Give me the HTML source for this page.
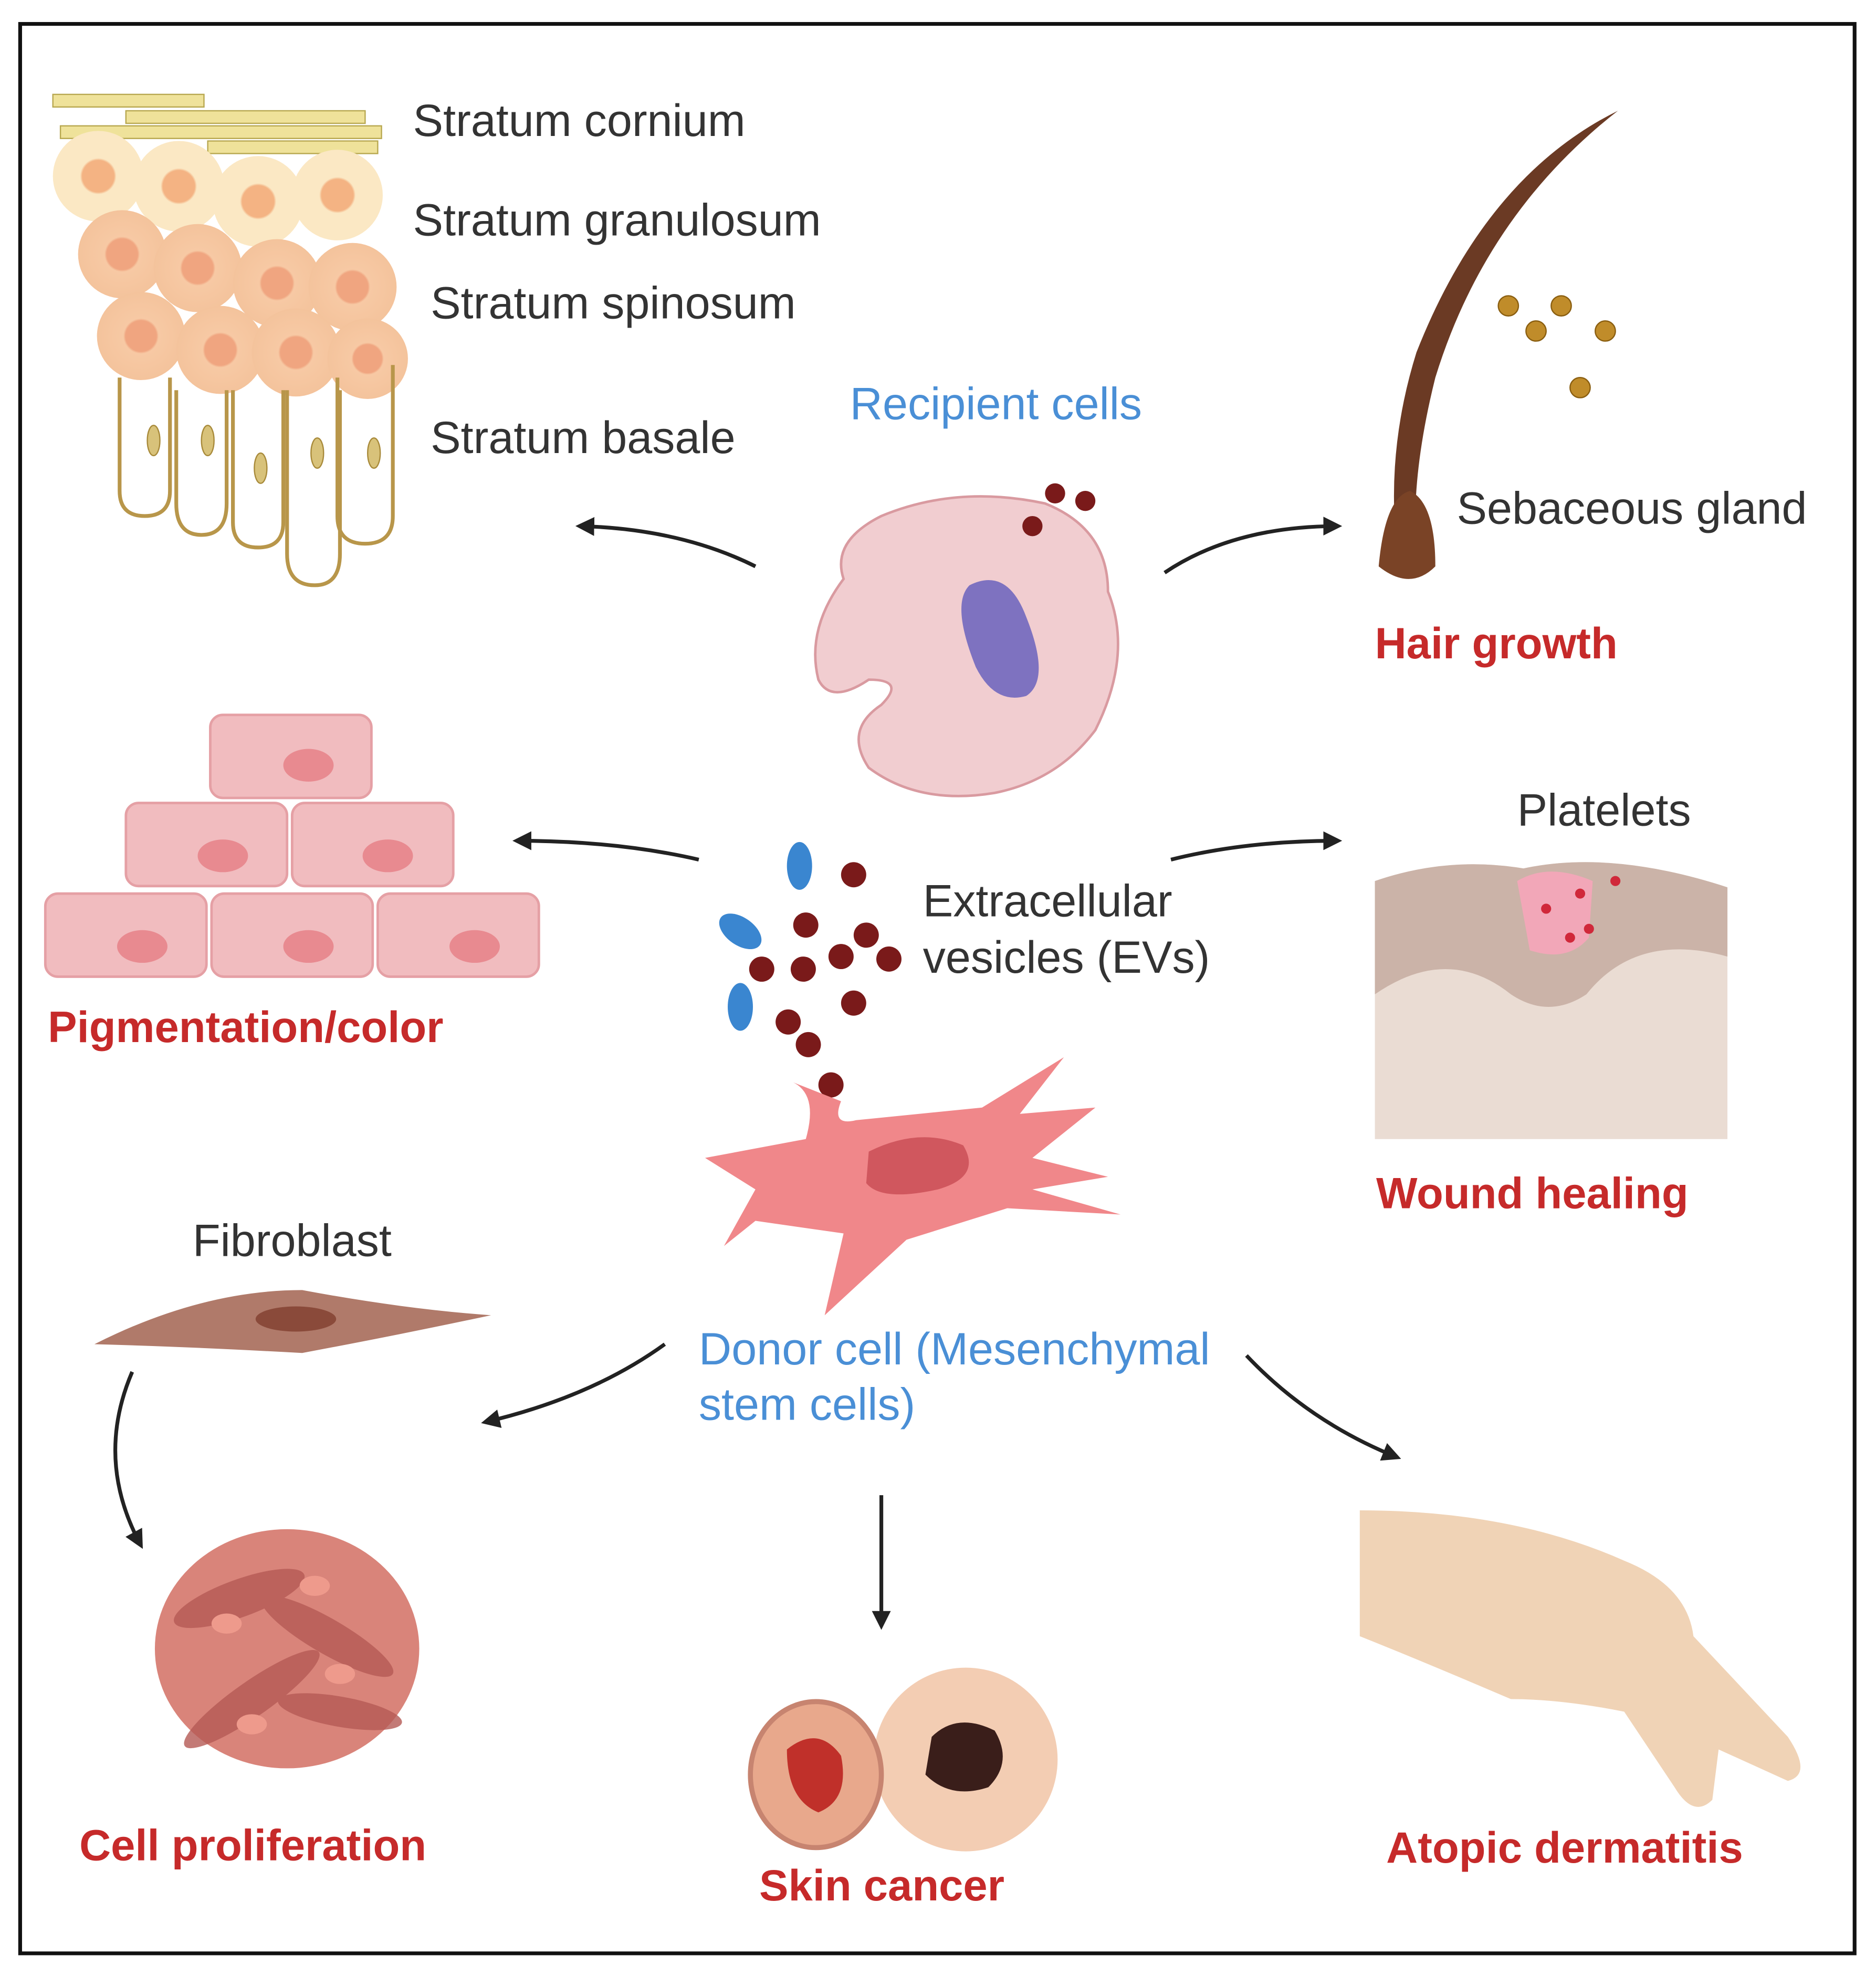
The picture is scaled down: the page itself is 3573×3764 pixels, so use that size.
<!DOCTYPE html>
<html><head><meta charset="utf-8"><style>
html,body{margin:0;padding:0;background:#fff}
svg{display:block}
text{font-family:"Liberation Sans",sans-serif}
.k{fill:#333;font-size:36px}
.b{fill:#4a8fd6;font-size:36px}
.r{fill:#c62a2a;font-size:34.7px;font-weight:bold}
</style></head><body>
<svg width="3573" height="3764" viewBox="0 0 1490 1570" preserveAspectRatio="none" xmlns="http://www.w3.org/2000/svg">
<defs>
<marker id="a" viewBox="0 0 10 10" refX="8" refY="5" markerWidth="5" markerHeight="5" orient="auto"><path d="M0,0L10,5L0,10z" fill="#222"/></marker>
<radialGradient id="cell"><stop offset="0.35" stop-color="#f0a580"/><stop offset="0.4" stop-color="#f7c9a4"/><stop offset="1" stop-color="#f4c39c"/></radialGradient>
<radialGradient id="gc"><stop offset="0.35" stop-color="#f4b383"/><stop offset="0.4" stop-color="#fbe8c4"/></radialGradient>
</defs>
<rect x="16" y="19" width="1457" height="1533" fill="#fff" stroke="#111" stroke-width="3"/>
<g>
<rect x="42" y="75" width="120" height="10" fill="#efe29a" stroke="#b8a850"/>
<rect x="100" y="88" width="190" height="10" fill="#efe29a" stroke="#b8a850"/>
<rect x="48" y="100" width="255" height="10" fill="#efe29a" stroke="#b8a850"/>
<rect x="165" y="112" width="135" height="10" fill="#efe29a" stroke="#b8a850"/>
<circle cx="78" cy="140" r="36" fill="url(#gc)"/><circle cx="142" cy="148" r="36" fill="url(#gc)"/><circle cx="205" cy="160" r="36" fill="url(#gc)"/><circle cx="268" cy="155" r="36" fill="url(#gc)"/>
<circle cx="97" cy="202" r="35" fill="url(#cell)"/><circle cx="157" cy="213" r="35" fill="url(#cell)"/><circle cx="220" cy="225" r="35" fill="url(#cell)"/><circle cx="280" cy="228" r="35" fill="url(#cell)"/>
<circle cx="112" cy="267" r="35" fill="url(#cell)"/><circle cx="175" cy="278" r="35" fill="url(#cell)"/><circle cx="235" cy="280" r="35" fill="url(#cell)"/><circle cx="292" cy="285" r="32" fill="url(#cell)"/>
<g fill="none" stroke="#b8964a" stroke-width="3">
<path d="M95,300 V390 Q95,410 115,410 Q135,410 135,390 V300"/>
<path d="M140,310 V400 Q140,425 160,425 Q180,425 180,400 V310"/>
<path d="M185,310 V415 Q185,435 205,435 Q225,435 225,415 V310"/>
<path d="M228,310 V440 Q228,465 250,465 Q270,465 270,440 V310"/>
<path d="M268,300 V410 Q268,432 290,432 Q312,432 312,410 V290"/>
</g>
<g fill="#d8c27a" stroke="#a88a3a"><ellipse cx="122" cy="350" rx="5" ry="12"/><ellipse cx="165" cy="350" rx="5" ry="12"/><ellipse cx="207" cy="372" rx="5" ry="12"/><ellipse cx="252" cy="360" rx="5" ry="12"/><ellipse cx="297" cy="360" rx="5" ry="12"/></g>
</g>
<text class="k" x="328" y="108">Stratum cornium</text>
<text class="k" x="328" y="187">Stratum granulosum</text>
<text class="k" x="342" y="253">Stratum spinosum</text>
<text class="k" x="342" y="360">Stratum basale</text>
<text class="b" x="675" y="333">Recipient cells</text>
<path d="M700,410 Q760,385 830,400 Q880,420 880,470 Q900,520 870,580 Q840,620 790,630 Q730,640 690,610 Q670,580 700,560 Q720,540 690,540 Q660,560 650,540 Q640,500 670,460 Q660,430 700,410z" fill="#f1cdd0" stroke="#d99aa0" stroke-width="2"/>
<path d="M770,465 Q800,450 815,490 Q835,540 815,553 Q790,560 775,530 Q755,480 770,465z" fill="#7e72c0"/>
<g fill="#7a1a1a"><circle cx="838" cy="392" r="8"/><circle cx="862" cy="398" r="8"/><circle cx="820" cy="418" r="8"/></g>
<path d="M1285,88 Q1180,170 1140,300 Q1120,380 1125,440 L1110,440 Q1100,360 1125,280 Q1180,140 1285,88z" fill="#6b3a24"/>
<path d="M1095,450 Q1100,395 1120,390 Q1140,400 1140,450 Q1120,470 1095,450z" fill="#7a4326"/>
<g fill="#c08c2a" stroke="#8a5e10"><circle cx="1198" cy="243" r="8"/><circle cx="1240" cy="243" r="8"/><circle cx="1220" cy="263" r="8"/><circle cx="1275" cy="263" r="8"/><circle cx="1255" cy="308" r="8"/></g>
<text class="k" x="1157" y="416">Sebaceous gland</text>
<text class="r" x="1092" y="523">Hair growth</text>
<g fill="#f1bcbf" stroke="#e5a0a5" stroke-width="2">
<rect x="167" y="568" width="128" height="66" rx="10"/>
<rect x="100" y="638" width="128" height="66" rx="10"/><rect x="232" y="638" width="128" height="66" rx="10"/>
<rect x="36" y="710" width="128" height="66" rx="10"/><rect x="168" y="710" width="128" height="66" rx="10"/><rect x="300" y="710" width="128" height="66" rx="10"/>
</g>
<g fill="#e88a90"><ellipse cx="245" cy="608" rx="20" ry="13"/><ellipse cx="177" cy="680" rx="20" ry="13"/><ellipse cx="308" cy="680" rx="20" ry="13"/><ellipse cx="113" cy="752" rx="20" ry="13"/><ellipse cx="245" cy="752" rx="20" ry="13"/><ellipse cx="377" cy="752" rx="20" ry="13"/></g>
<text class="r" x="38" y="828">Pigmentation/color</text>
<g fill="#3a86d0"><ellipse cx="635" cy="688" rx="10" ry="19"/><ellipse cx="588" cy="740" rx="19" ry="11" transform="rotate(35 588 740)"/><ellipse cx="588" cy="800" rx="10" ry="19"/></g>
<g fill="#7a1a1a"><circle cx="678" cy="695" r="10"/><circle cx="640" cy="735" r="10"/><circle cx="688" cy="743" r="10"/><circle cx="668" cy="760" r="10"/><circle cx="638" cy="770" r="10"/><circle cx="605" cy="770" r="10"/><circle cx="706" cy="762" r="10"/><circle cx="678" cy="797" r="10"/><circle cx="626" cy="812" r="10"/><circle cx="642" cy="830" r="10"/><circle cx="660" cy="862" r="10"/></g>
<text class="k" x="733" y="728">Extracellular</text>
<text class="k" x="733" y="773">vesicles (EVs)</text>
<path d="M560,920 L640,905 Q650,870 630,860 L668,875 Q660,895 680,890 L780,880 L845,840 L810,885 L870,880 L820,920 L880,935 L820,945 L890,965 L800,960 L720,985 L655,1045 L670,980 L600,970 L575,990 L600,945 L560,920z" fill="#f0878a"/>
<path d="M690,915 Q730,895 765,910 Q780,935 745,945 Q700,955 688,940z" fill="#d0575e"/>
<text class="b" x="555" y="1084">Donor cell (Mesenchymal</text>
<text class="b" x="555" y="1128">stem cells)</text>
<path d="M1092,700 Q1150,680 1210,690 Q1280,675 1372,705 V905 H1092z" fill="#eadcd3"/>
<path d="M1092,700 Q1150,680 1210,690 Q1280,675 1372,705 V760 Q1300,740 1260,790 Q1230,810 1200,790 Q1150,750 1092,790z" fill="#cbb3a8"/>
<path d="M1205,700 Q1230,685 1265,700 L1262,745 Q1245,765 1215,755z" fill="#f2a7b8"/>
<g fill="#d0283a"><circle cx="1228" cy="722" r="4"/><circle cx="1255" cy="710" r="4"/><circle cx="1247" cy="745" r="4"/><circle cx="1262" cy="738" r="4"/><circle cx="1283" cy="700" r="4"/></g>
<text class="k" x="1205" y="656">Platelets</text>
<text class="r" x="1093" y="960">Wound healing</text>
<path d="M75,1068 Q160,1025 240,1025 Q320,1040 390,1045 Q320,1060 240,1075 Q150,1070 75,1068z" fill="#b07a6a"/>
<ellipse cx="235" cy="1048" rx="32" ry="10" fill="#8a4a3a"/>
<text class="k" x="153" y="998">Fibroblast</text>
<path d="M105,1090 Q75,1160 112,1228" fill="none" stroke="#222" stroke-width="3" marker-end="url(#a)"/>
<ellipse cx="228" cy="1310" rx="105" ry="95" fill="#d9847a"/>
<g fill="#b55a55" opacity="0.8"><ellipse cx="190" cy="1270" rx="55" ry="15" transform="rotate(-20 190 1270)"/><ellipse cx="260" cy="1300" rx="60" ry="14" transform="rotate(30 260 1300)"/><ellipse cx="200" cy="1350" rx="65" ry="14" transform="rotate(-35 200 1350)"/><ellipse cx="270" cy="1360" rx="50" ry="12" transform="rotate(10 270 1360)"/></g>
<g fill="#ee9a8c"><ellipse cx="180" cy="1290" rx="12" ry="8"/><ellipse cx="250" cy="1260" rx="12" ry="8"/><ellipse cx="270" cy="1330" rx="12" ry="8"/><ellipse cx="200" cy="1370" rx="12" ry="8"/></g>
<text class="r" x="63" y="1478">Cell proliferation</text>
<circle cx="767" cy="1398" r="73" fill="#f3cdb3"/>
<path d="M740,1380 Q760,1360 790,1375 Q805,1400 785,1420 Q755,1430 735,1410z" fill="#3a1e1a"/>
<ellipse cx="648" cy="1410" rx="52" ry="58" fill="#e8a88c" stroke="#c78470" stroke-width="4"/>
<path d="M625,1390 Q650,1370 668,1395 Q675,1430 650,1440 Q625,1430 625,1390z" fill="#c0302a"/>
<text class="r" x="603" y="1510">Skin cancer</text>
<path d="M1080,1200 Q1200,1200 1290,1240 Q1340,1260 1345,1300 L1420,1380 Q1440,1410 1420,1415 L1365,1390 L1360,1430 Q1345,1445 1330,1420 L1290,1360 Q1240,1350 1200,1350 Q1130,1320 1080,1300z" fill="#f0d3b6"/>
<text class="r" x="1101" y="1480">Atopic dermatitis</text>
<g fill="none" stroke="#222" stroke-width="3" marker-end="url(#a)">
<path d="M600,450 Q540,420 460,418"/>
<path d="M925,455 Q980,418 1063,418"/>
<path d="M555,683 Q490,668 410,668"/>
<path d="M930,683 Q990,668 1063,668"/>
<path d="M528,1068 Q470,1110 385,1130"/>
<path d="M700,1188 V1292"/>
<path d="M990,1077 Q1040,1130 1110,1158"/>
</g>
</svg>
</body></html>
